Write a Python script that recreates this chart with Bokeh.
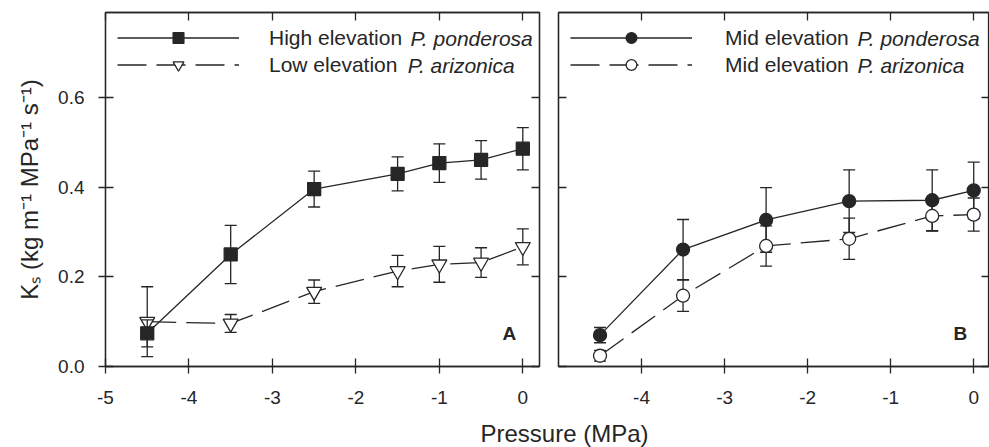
from bokeh.plotting import figure
from bokeh.models import (LinearAxis, FixedTicker, Range1d, Legend, LegendItem, Label,
                          ColumnDataSource, NumeralTickFormatter, CustomJSTickFormatter)
from bokeh.layouts import row, column
from bokeh.embed import file_html
from bokeh.resources import INLINE

# ---------------- data ----------------
pressure_a = [-4.5, -3.5, -2.5, -1.5, -1.0, -0.5, 0.0]
high_pond = [0.074, 0.250, 0.396, 0.430, 0.454, 0.461, 0.486]
high_pond_err = [0.030, 0.065, 0.040, 0.038, 0.043, 0.043, 0.047]
low_ariz = [0.100, 0.096, 0.167, 0.213, 0.228, 0.232, 0.267]
low_ariz_err = [0.078, 0.020, 0.026, 0.035, 0.040, 0.033, 0.040]

pressure_b = [-4.5, -3.5, -2.5, -1.5, -0.5, 0.0]
mid_pond = [0.070, 0.261, 0.327, 0.369, 0.371, 0.393]
mid_pond_err = [0.017, 0.067, 0.072, 0.070, 0.068, 0.063]
mid_ariz = [0.024, 0.158, 0.269, 0.285, 0.336, 0.339]
mid_ariz_err = [0.012, 0.035, 0.045, 0.046, 0.034, 0.037]

x_ticks_a = [-5, -4, -3, -2, -1, 0]
x_ticks_b = [-4, -3, -2, -1, 0]
y_ticks = [0.0, 0.2, 0.4, 0.6]

INK = "#262626"
FONT = "Liberation Sans"


def src(x, y, e):
    return ColumnDataSource(dict(x=x, y=y, lo=[a - b for a, b in zip(y, e)],
                                 hi=[a + b for a, b in zip(y, e)]))


def add_axis(p, side, ticks, labelled, tick_out, fmt=None, standoff=0):
    ax = LinearAxis(ticker=FixedTicker(ticks=ticks), major_tick_in=8, major_tick_out=tick_out,
                    minor_tick_line_color=None, axis_line_color=INK, axis_line_width=1.3,
                    major_tick_line_color=INK, major_tick_line_width=1.3)
    if labelled:
        ax.formatter = fmt
        ax.major_label_text_font = FONT
        ax.major_label_text_font_size = "19px"
        ax.major_label_text_color = INK
        ax.major_label_standoff = standoff
    else:
        ax.formatter = CustomJSTickFormatter(code="return ''")
        ax.major_label_text_font_size = "1px"
        ax.major_label_standoff = 0
    p.add_layout(ax, side)
    return ax


def panel(width, bl, br, x_end, xticks, left_labels):
    p = figure(width=width, height=414, x_range=Range1d(-5, x_end), y_range=Range1d(0, 0.79),
               output_backend="svg", toolbar_location=None, min_border_left=bl,
               min_border_right=br, min_border_top=12, min_border_bottom=48,
               x_axis_type=None, y_axis_type=None)
    p.grid.visible = False
    p.outline_line_color = INK
    p.outline_line_width = 1.3
    p.background_fill_color = "white"
    p.border_fill_color = "white"
    add_axis(p, "below", xticks, True, 7, NumeralTickFormatter(format="0"), 17)
    add_axis(p, "above", xticks, False, 0)
    add_axis(p, "right", y_ticks, False, 0)
    if left_labels:
        ax = add_axis(p, "left", y_ticks, True, 7, NumeralTickFormatter(format="0.0"), 14)
        ax.axis_label = "Kₛ (kg m⁻¹ MPa⁻¹ s⁻¹)"
        ax.axis_label_text_font = FONT
        ax.axis_label_text_font_size = "24px"
        ax.axis_label_text_font_style = "normal"
        ax.axis_label_text_color = INK
        ax.axis_label_standoff = 12
    else:
        add_axis(p, "left", y_ticks, False, 0)
    return p


def series(p, s, dash, marker, size, fill):
    ln = p.line("x", "y", source=s, line_color=INK, line_width=1.3, line_dash=dash)
    p.segment(x0="x", y0="lo", x1="x", y1="hi", source=s, line_color=INK, line_width=1.3)
    p.scatter("x", "lo", source=s, marker="dash", size=12, line_color=INK, line_width=1.3)
    p.scatter("x", "hi", source=s, marker="dash", size=12, line_color=INK, line_width=1.3)
    mk = p.scatter("x", "y", source=s, marker=marker, size=size, fill_color=fill,
                   line_color=INK, line_width=1.3)
    return ln, mk


def legend(p, items, standoff):
    lg = Legend(items=items, location="top_left", margin=12, padding=0, glyph_width=122,
                glyph_height=27, label_height=20, spacing=0, label_standoff=standoff,
                label_text_font=FONT, label_text_font_size="21px", label_text_color=INK,
                border_line_color=None, background_fill_alpha=0)
    p.add_layout(lg)


def italic(p, x, y, text):
    p.add_layout(Label(x=x, y=y, text=text, text_font=FONT, text_font_size="21px",
                       text_font_style="italic", text_color=INK, text_baseline="middle",
                       text_align="left"))


# ---------------- panel A ----------------
pa = panel(549, 105, 10, 0.2, x_ticks_a, True)
la_ln, la_mk = series(pa, src(pressure_a, low_ariz, low_ariz_err), "29 10",
                      "inverted_triangle", 15, "white")
hp_ln, hp_mk = series(pa, src(pressure_a, high_pond, high_pond_err), "solid",
                      "square", 13, INK)
legend(pa, [LegendItem(label="High elevation", renderers=[hp_ln, hp_mk]),
            LegendItem(label="Low elevation", renderers=[la_ln, la_mk])], 30)
italic(pa, -1.345, 0.731, "P. ponderosa")
italic(pa, -1.38, 0.671, "P. arizonica")
pa.add_layout(Label(x=-0.16, y=0.074, text="A", text_font=FONT, text_font_size="19px",
                    text_font_style="bold", text_color=INK, text_align="center",
                    text_baseline="middle"))

# ---------------- panel B ----------------
pb = panel(440, 9, 0, 0.19, x_ticks_b, False)
mp_ln, mp_mk = series(pb, src(pressure_b, mid_pond, mid_pond_err), "solid",
                      "circle", 13, INK)
ma_ln, ma_mk = series(pb, src(pressure_b, mid_ariz, mid_ariz_err), "29 10",
                      "circle", 13, "white")
legend(pb, [LegendItem(label="Mid elevation", renderers=[mp_ln, mp_mk]),
            LegendItem(label="Mid elevation", renderers=[ma_ln, ma_mk])], 33)
italic(pb, -1.40, 0.731, "P. ponderosa")
italic(pb, -1.40, 0.671, "P. arizonica")
pb.add_layout(Label(x=-0.16, y=0.074, text="B", text_font=FONT, text_font_size="19px",
                    text_font_style="bold", text_color=INK, text_align="center",
                    text_baseline="middle"))

# ---------------- shared x title ----------------
t = figure(width=989, height=33, x_range=Range1d(0, 989), y_range=Range1d(0, 33),
           output_backend="svg", toolbar_location=None, min_border=0,
           x_axis_type=None, y_axis_type=None, outline_line_color=None)
t.title.visible = False
t.grid.visible = False
t.add_layout(Label(x=564, y=14, text="Pressure (MPa)", text_font=FONT, text_font_size="24px",
                   text_color=INK, text_align="center", text_baseline="alphabetic"))

layout = column(row(pa, pb), t)
open("out.html", "w").write(file_html(layout, INLINE))
